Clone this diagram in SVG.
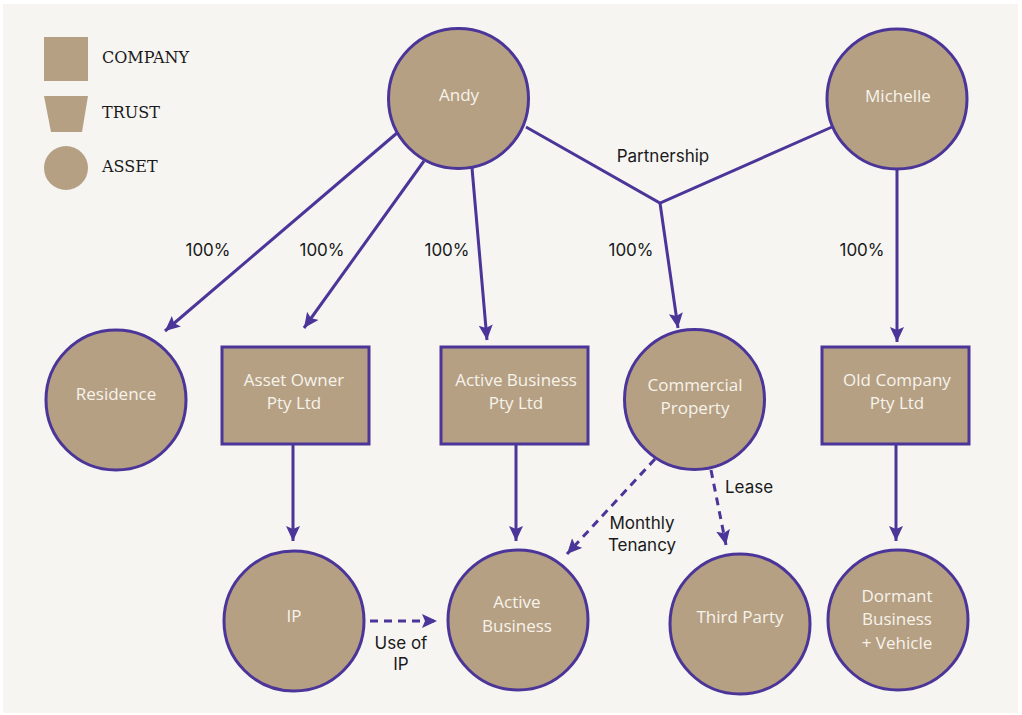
<svg xmlns="http://www.w3.org/2000/svg" width="1022" height="715" viewBox="0 0 1022 715">
<style>
.node{fill:#b5a084;stroke:#4b3598;stroke-width:3}
.leg{fill:#b5a084}
.lbl{font-family:"Open Sans","Noto Sans",sans-serif;font-size:17px;fill:#f7f3ea;text-anchor:middle}
.legt{font-family:"DejaVu Serif","Liberation Serif",serif;font-size:16px;fill:#1a1a1a}
.et{font-family:"Inter","Open Sans",sans-serif;font-size:17px;fill:#1a1a1a;text-anchor:middle}
.c{fill:none;stroke:#4b3598;stroke-width:3}
.d{stroke-dasharray:8 6}
</style>
<defs>
<marker id="ah" markerUnits="userSpaceOnUse" markerWidth="17" markerHeight="15" refX="15" refY="7" orient="auto">
<path d="M0,0 L15,7 L0,14 L3,7 z" fill="#4b3598"/>
</marker>
</defs>
<rect x="0" y="0" width="1022" height="715" fill="#ffffff"/>
<rect x="3" y="4" width="1015" height="709" fill="#f6f5f2"/>
<g id="legend">
<rect class="leg" x="44" y="37" width="44" height="44"/>
<text class="legt" x="102" y="63">COMPANY</text>
<polygon class="leg" points="44,96 88,96 82,132 51,132"/>
<text class="legt" x="102" y="118">TRUST</text>
<circle class="leg" cx="66" cy="168" r="22"/>
<text class="legt" x="102" y="172">ASSET</text>
</g>
<g id="connectors">
<line class="c" x1="397" y1="133" x2="165" y2="331" marker-end="url(#ah)"/>
<line class="c" x1="424" y1="161" x2="304" y2="328" marker-end="url(#ah)"/>
<line class="c" x1="472" y1="168" x2="487" y2="340" marker-end="url(#ah)"/>
<polyline class="c" points="526,127 660,203 832,127"/>
<line class="c" x1="660" y1="203" x2="678" y2="328" marker-end="url(#ah)"/>
<line class="c" x1="897" y1="169" x2="897" y2="342" marker-end="url(#ah)"/>
<line class="c" x1="293" y1="444" x2="293" y2="541" marker-end="url(#ah)"/>
<line class="c" x1="516" y1="444" x2="516" y2="541" marker-end="url(#ah)"/>
<line class="c" x1="896" y1="444" x2="896" y2="541" marker-end="url(#ah)"/>
<line class="c d" x1="655" y1="459" x2="567" y2="554" marker-end="url(#ah)"/>
<line class="c d" x1="711" y1="470" x2="726" y2="545" marker-end="url(#ah)"/>
<line class="c d" x1="370" y1="621" x2="437" y2="621" marker-end="url(#ah)"/>
<text class="et" x="208" y="256">100%</text>
<text class="et" x="322" y="256">100%</text>
<text class="et" x="447" y="256">100%</text>
<text class="et" x="631" y="256">100%</text>
<text class="et" x="862" y="256">100%</text>
<text class="et" x="663" y="162">Partnership</text>
<text class="et" x="749" y="493">Lease</text>
<text class="et" x="642" y="529">Monthly</text>
<text class="et" x="642" y="551">Tenancy</text>
<text class="et" x="401" y="649">Use of</text>
<text class="et" x="401" y="670">IP</text>
</g>
<g id="andy"><circle class="node" cx="458.5" cy="98.5" r="70"/><text class="lbl" x="459" y="101">Andy</text></g>
<g id="michelle"><circle class="node" cx="897" cy="99" r="70"/><text class="lbl" x="898" y="102">Michelle</text></g>
<g id="residence"><circle class="node" cx="116" cy="400" r="70"/><text class="lbl" x="116" y="400">Residence</text></g>
<g id="asset-owner"><rect class="node" x="222" y="347" width="147" height="97"/><text class="lbl" x="294" y="386">Asset Owner</text><text class="lbl" x="294" y="409">Pty Ltd</text></g>
<g id="active-business-co"><rect class="node" x="441" y="347" width="147" height="97"/><text class="lbl" x="516" y="386">Active Business</text><text class="lbl" x="516" y="409">Pty Ltd</text></g>
<g id="commercial-property"><circle class="node" cx="694.5" cy="399.5" r="70"/><text class="lbl" x="695" y="391">Commercial</text><text class="lbl" x="695" y="414">Property</text></g>
<g id="old-company"><rect class="node" x="822" y="347" width="147" height="97"/><text class="lbl" x="897" y="386">Old Company</text><text class="lbl" x="897" y="409">Pty Ltd</text></g>
<g id="ip"><circle class="node" cx="294" cy="621" r="70"/><text class="lbl" x="294" y="622">IP</text></g>
<g id="active-business"><circle class="node" cx="518" cy="620" r="70"/><text class="lbl" x="517" y="608">Active</text><text class="lbl" x="517" y="632">Business</text></g>
<g id="third-party"><circle class="node" cx="740" cy="624" r="70"/><text class="lbl" x="740" y="623">Third Party</text></g>
<g id="dormant"><circle class="node" cx="898" cy="620" r="70"/><text class="lbl" x="897" y="602">Dormant</text><text class="lbl" x="897" y="625">Business</text><text class="lbl" x="897" y="649">+ Vehicle</text></g>
</svg>
